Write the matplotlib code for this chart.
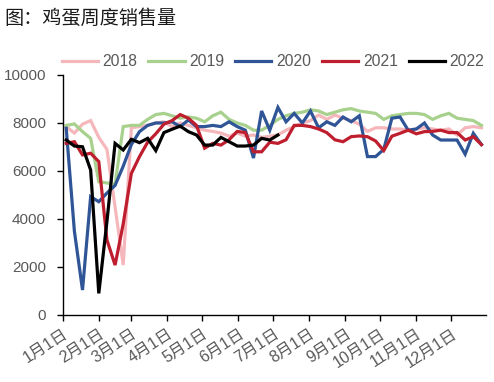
import matplotlib
matplotlib.use("Agg")
import matplotlib.pyplot as plt
import numpy as np
import pandas as pd

plt.rcParams['font.family'] = ['Liberation Sans', 'Noto Sans CJK SC', 'DejaVu Sans']

# weekly sales, plotted on a common calendar year
weeks = pd.date_range("2022-01-04", periods=52, freq="7D")

y2018 = [7850, 7580, 7950, 8100, 7400, 6900, 4500, 2080, 7800, 7850, 7900, 8000, 8050,
         7850, 8000, 7900, 7800, 7700, 7650, 7580, 7450, 7580, 7450, 7500, 7400, 7450,
         7500, 7700, 7850, 8000, 8100, 8330, 8150, 8330, 8200, 8100, 7950, 7650, 7800,
         7800, 7750, 7750, 7700, 7750, 7800, 7750, 7700, 7750, 7500, 7800, 7850, 7800]
y2019 = [7900, 7960, 7640, 7360, 5550, 5500, 5450, 7850, 7900, 7900, 8150, 8350, 8400,
         8300, 8200, 8250, 8200, 8050, 8300, 8450, 8150, 8000, 7900, 7700, 7700, 7900,
         8150, 8300, 8400, 8450, 8550, 8500, 8350, 8450, 8550, 8600, 8500, 8450, 8400,
         8150, 8300, 8350, 8400, 8400, 8350, 8150, 8300, 8400, 8200, 8150, 8100, 7900]
y2020 = [7780, 3500, 1040, 4930, 4720, 5080, 5400, 6200, 7100, 7640, 7900, 8000, 8000,
         8050, 7850, 8125, 7850, 7850, 7900, 7850, 8050, 7850, 7700, 6540, 8500, 7700,
         8650, 8050, 8400, 8000, 8500, 7800, 8050, 7900, 8250, 8050, 8300, 6600, 6600,
         6900, 8200, 8250, 7700, 7750, 8000, 7500, 7290, 7290, 7290, 6700, 7570, 7100]
y2021 = [7150, 7220, 6670, 6740, 6390, 3125, 2080, 3800, 5900, 6600, 7200, 7550, 7950,
         8100, 8350, 8200, 7900, 6950, 7150, 7080, 7300, 7650, 7600, 6800, 6800, 7200,
         7150, 7300, 7900, 7900, 7850, 7750, 7600, 7300, 7220, 7430, 7460, 7430, 7250,
         6850, 7450, 7570, 7700, 7550, 7640, 7650, 7700, 7600, 7600, 7290, 7430, 7100]
y2022 = [7290, 7040, 7010, 6040, 900, 3900, 7150, 6875, 7320, 7180, 7360, 6850, 7600,
         7740, 7870, 7640, 7500, 7080, 7080, 7400, 7220, 7040, 7040, 7080, 7360, 7290,
         7500]

years = ['2018', '2019', '2020', '2021', '2022']
series = [y2018, y2019, y2020, y2021, y2022]
colors = ['#F5B7BB', '#A9D18E', '#2F5597', '#BE1E2D', '#000000']

month_ticks = pd.date_range("2022-01-01", periods=12, freq="MS")
month_labels = [f"{d.month}月1日" for d in month_ticks]

fig = plt.figure(figsize=(4.94, 3.82), dpi=100)
ax = fig.add_axes([0.127, 0.1754, 0.857, 0.6283])

for name, vals, c in zip(years, series, colors):
    ax.plot(weeks[:len(vals)], vals, color=c, lw=2.3, label=name,
            solid_joinstyle='miter')

ax.set_xlim(pd.Timestamp("2022-01-01"), pd.Timestamp("2022-12-31"))
ax.set_ylim(0, 10000)
ax.set_yticks(np.arange(0, 10001, 2000))
ax.set_xticks(month_ticks)
ax.set_xticklabels(month_labels, rotation=33, ha='right', rotation_mode='anchor')

for s in ['top', 'right']:
    ax.spines[s].set_visible(False)
for s in ['left', 'bottom']:
    ax.spines[s].set_color('black')
    ax.spines[s].set_linewidth(1.0)
ax.tick_params(axis='y', length=4, width=1, pad=8, labelsize=11, labelcolor='#595959')
ax.tick_params(axis='x', length=4, width=1, pad=4, labelsize=11.5, labelcolor='#595959')

fig.legend(loc='center left', bbox_to_anchor=(0.125, 1 - 62 / 382), ncol=5,
           frameon=False, fontsize=11.3, handlelength=2.3, handletextpad=0.3,
           columnspacing=0.7, borderpad=0, borderaxespad=0, labelcolor='#595959')

fig.text(0.008, 1 - 18 / 382, "图：鸡蛋周度销售量", fontsize=13.8, color='#1a1a1a',
         va='center', ha='left', family=['Noto Sans CJK SC', 'DejaVu Sans'])

fig.savefig("out.png", dpi=100)
